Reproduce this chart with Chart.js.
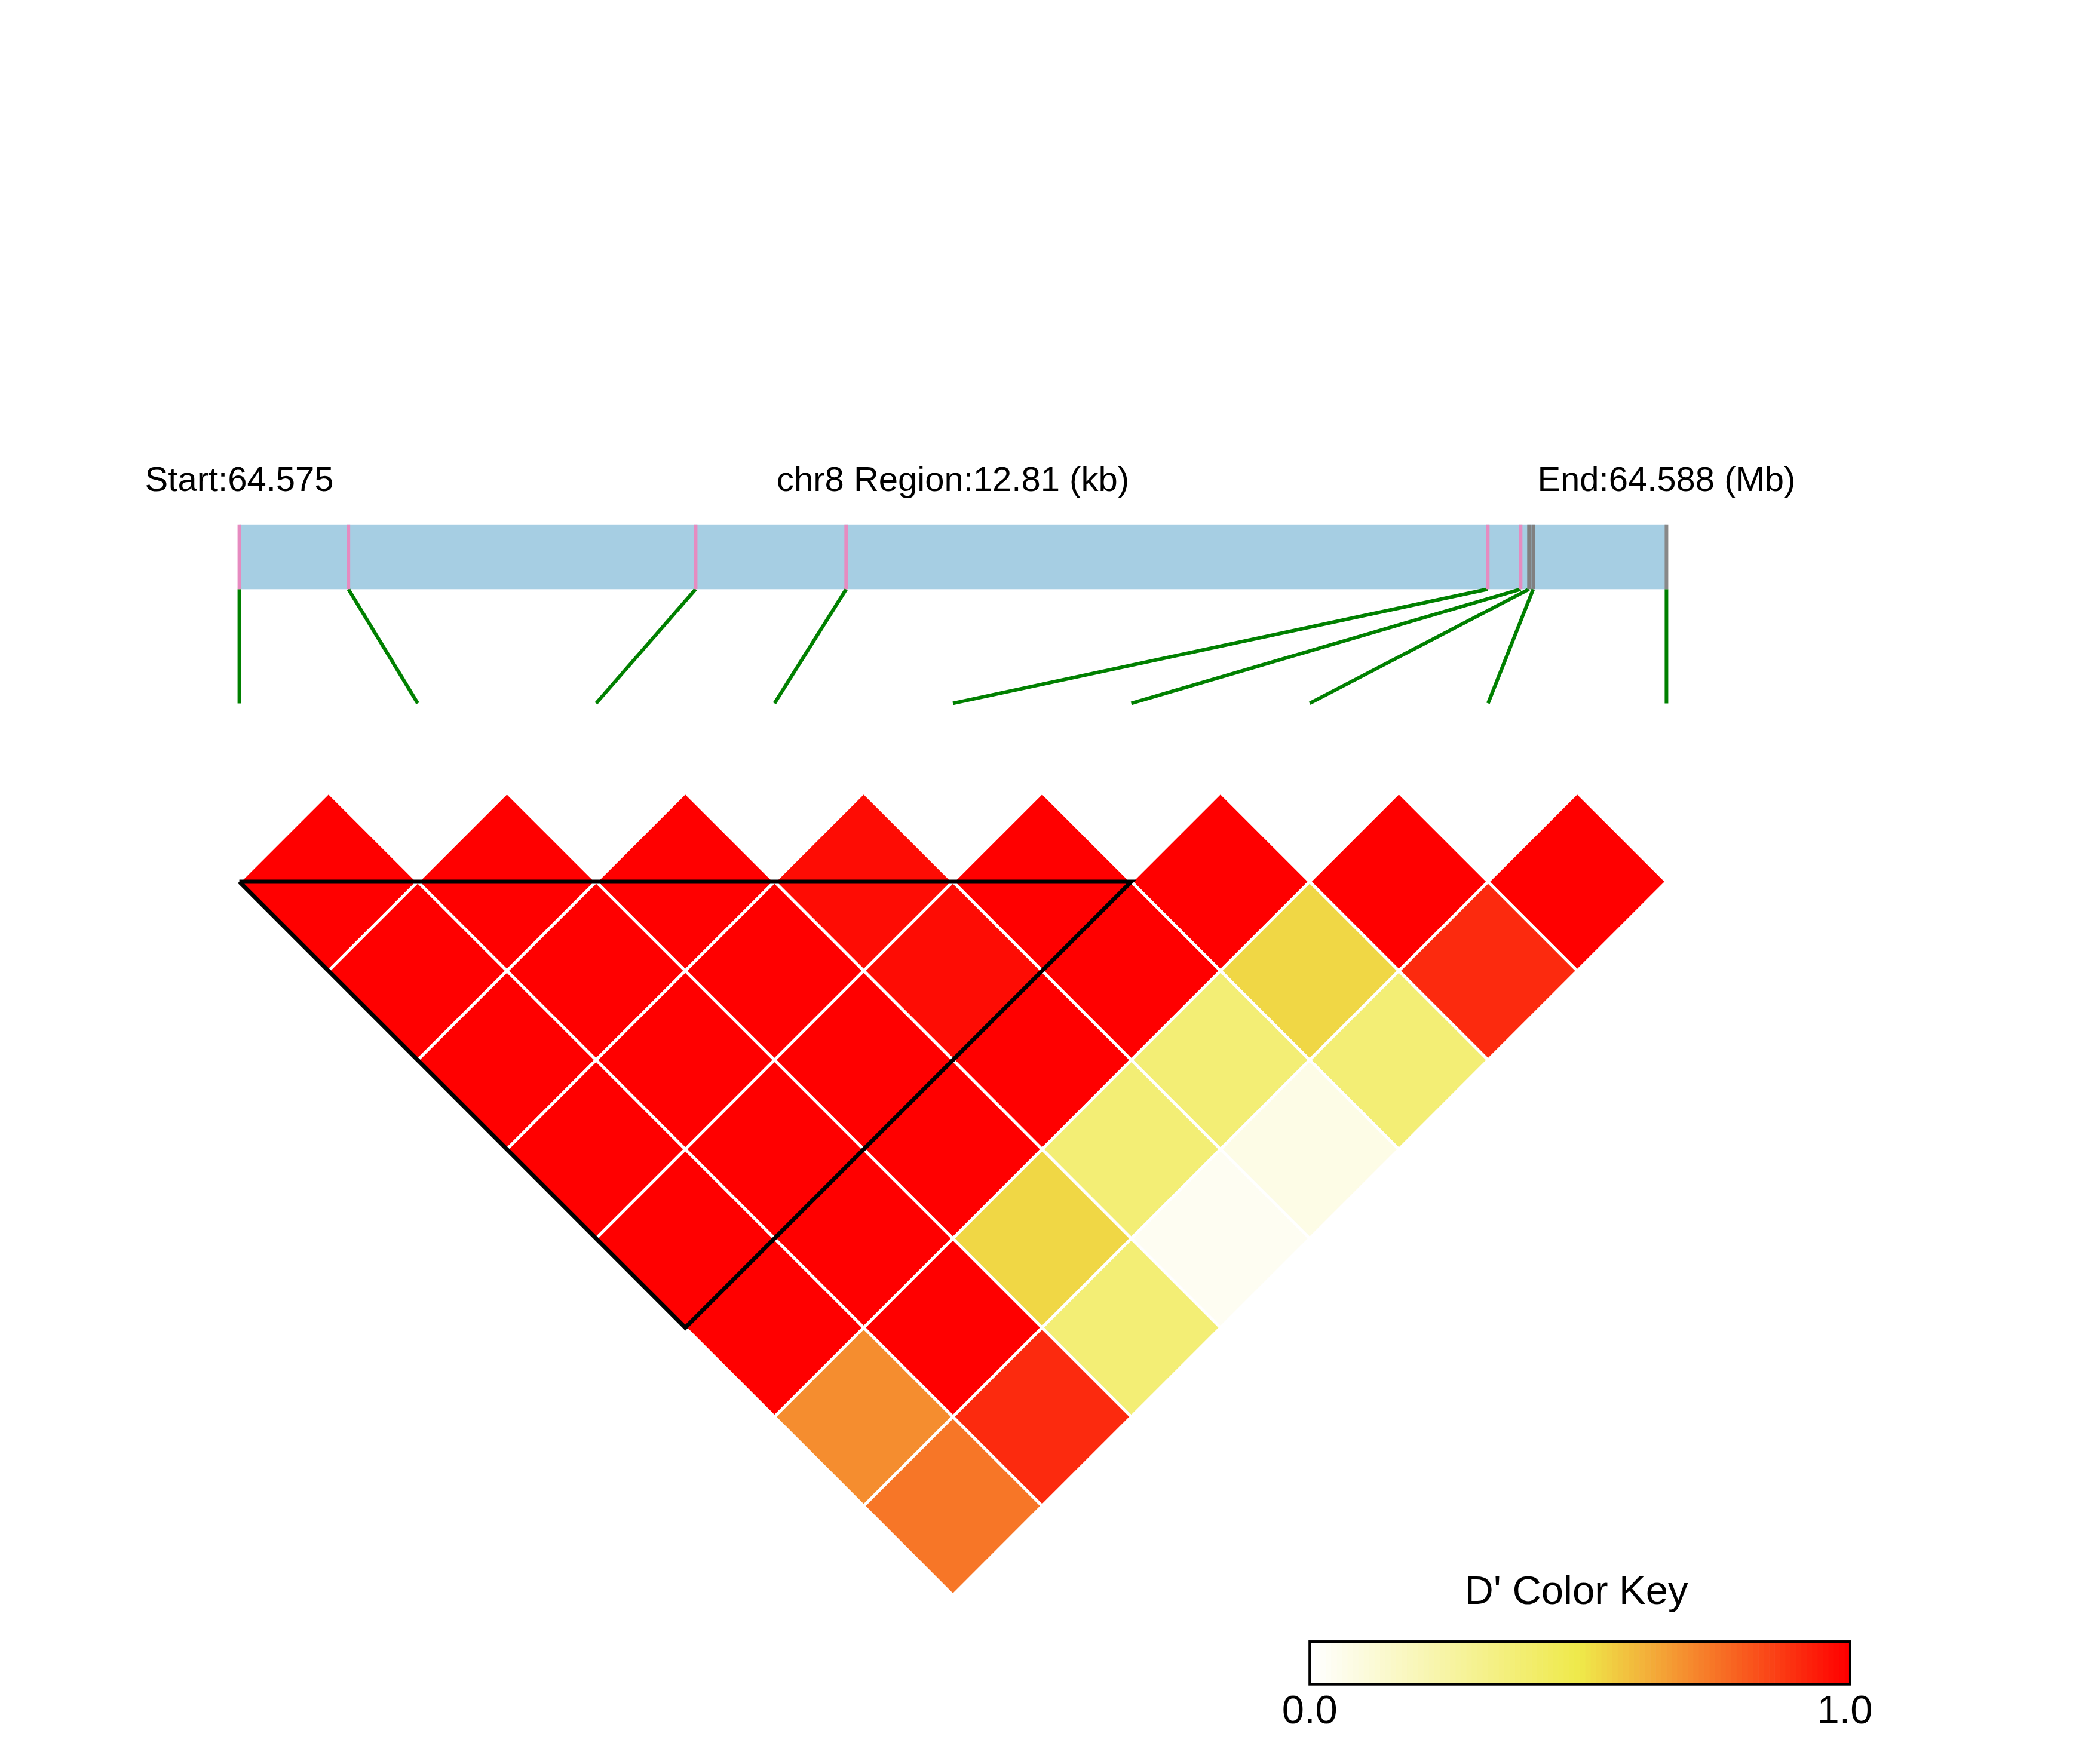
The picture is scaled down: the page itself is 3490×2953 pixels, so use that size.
<!DOCTYPE html>
<html>
<head>
<meta charset="utf-8">
<title>LD heatmap chr8</title>
<script src="https://cdn.jsdelivr.net/npm/chart.js@4.4.1/dist/chart.umd.min.js"></script>
<style>
  html, body { margin: 0; padding: 0; background: #fff; }
  canvas { display: block; }
</style>
</head>
<body>
<canvas id="ldChart" width="3490" height="2953"></canvas>
<script>
// SNP positions inside the region (kb from the start)
const snpPosKb = [0, 0.979, 4.096, 5.447, 11.206, 11.501, 11.576, 11.614, 12.81]
const snpTickColors = ['#e68bc0', '#e68bc0', '#e68bc0', '#e68bc0', '#e68bc0', '#e68bc0', '#808080', '#808080', '#888888']
const regionKb = 12.81
const regionLabels = ['Start:64.575', 'chr8 Region:12.81 (kb)', 'End:64.588 (Mb)']

// D' by distance: row r holds the pairs (i, i + r + 1)
const dPrimeRows = [
  [1, 1, 1, 0.975, 1, 1, 1, 1],
  [1, 1, 1, 0.975, 1, 0.54, 0.91],
  [1, 1, 1, 1, 0.38, 0.38],
  [1, 1, 1, 0.38, 0.07],
  [1, 1, 0.54, 0.035],
  [1, 1, 0.38],
  [0.70, 0.91],
  [0.75]
]
const blockSnps = [0, 5]

const keyTitle = "D' Color Key"
const keyTicks = [0, 1]
const keyTickLabels = ['0.0', '1.0']

// colour ramp used for the cells and the key
const rampStops = [[0, '#ffffff'], [0.5, '#efe94a'], [0.66, '#f4a035'], [1, '#ff0000']]

function hexRgb(h) {
  return [parseInt(h.slice(1, 3), 16), parseInt(h.slice(3, 5), 16), parseInt(h.slice(5, 7), 16)]
}
function rampColor(v) {
  for (let k = 1; k < rampStops.length; k++) {
    if (v <= rampStops[k][0]) {
      const [v0, c0] = rampStops[k - 1], [v1, c1] = rampStops[k]
      const t = (v - v0) / (v1 - v0)
      const a = hexRgb(c0), b = hexRgb(c1)
      return 'rgb(' + a.map((q, n) => Math.round(q + (b[n] - q) * t)).join(',') + ')'
    }
  }
  return rampStops[rampStops.length - 1][1]
}

const nSnp = snpPosKb.length
const kbToX = (kb) => kb / regionKb * (nSnp - 1)

// layout in chart units (1 unit = distance between two SNP columns)
const barTop = 2.0, barBottom = 1.64, linkBottom = 1.0, labelY = 2.19
const keyLeft = 6.0, keyRight = 9.03, keyTop = -4.26, keyBottom = -4.50
const keyTitleY = -4.05, keyLabelY = -4.72
const unitPx = 298.6

const cells = []
dPrimeRows.forEach((row, r) => {
  row.forEach((v, i) => {
    const j = i + r + 1
    cells.push({x: (i + j) / 2, y: -(j - i - 1) / 2, v: v})
  })
})

const b0 = blockSnps[0], b1 = blockSnps[1]
const blockOutline = [
  {x: b0, y: 0}, {x: b1, y: 0}, {x: (b0 + b1) / 2, y: -(b1 - b0) / 2}, {x: b0, y: 0}
]

const tickSets = snpPosKb.map((kb, i) => ({
  type: 'scatter', showLine: true, order: 1,
  data: [{x: kbToX(kb), y: barTop}, {x: kbToX(kb), y: barBottom}],
  borderColor: snpTickColors[i], borderWidth: 6, pointRadius: 0
}))
const linkSets = snpPosKb.map((kb, i) => ({
  type: 'scatter', showLine: true, order: 2,
  data: [{x: kbToX(kb), y: barBottom}, {x: i, y: linkBottom}],
  borderColor: '#008000', borderWidth: 6, pointRadius: 0
}))

const font = (px) => px + 'px "Liberation Sans", Arial, sans-serif'

const ldDecor = {
  id: 'ldDecor',
  beforeDatasetsDraw(chart) {
    const {ctx, scales: {x, y}} = chart
    const l = x.getPixelForValue(kbToX(0)), r = x.getPixelForValue(kbToX(regionKb))
    const t = y.getPixelForValue(barTop), b = y.getPixelForValue(barBottom)
    ctx.save()
    ctx.fillStyle = '#a6cee3'
    ctx.fillRect(l, t, r - l, b - t)
    ctx.restore()
  },
  afterDraw(chart) {
    const {ctx, scales: {x, y}} = chart
    ctx.save()
    ctx.fillStyle = '#000'
    ctx.textBaseline = 'alphabetic'
    ctx.textAlign = 'center'
    ctx.font = font(58)
    const labelKb = [0, regionKb / 2, regionKb]
    regionLabels.forEach((txt, k) => {
      ctx.fillText(txt, x.getPixelForValue(kbToX(labelKb[k])), y.getPixelForValue(labelY))
    })

    // colour key
    const kl = x.getPixelForValue(keyLeft), kr = x.getPixelForValue(keyRight)
    const kt = y.getPixelForValue(keyTop), kb = y.getPixelForValue(keyBottom)
    const steps = 100
    const w = (kr - kl) / steps
    for (let s = 0; s < steps; s++) {
      ctx.fillStyle = rampColor(s / (steps - 1))
      ctx.fillRect(kl + s * w, kt, w + 0.6, kb - kt)
    }
    ctx.strokeStyle = '#000'
    ctx.lineWidth = 4
    ctx.strokeRect(kl, kt, kr - kl, kb - kt)

    ctx.fillStyle = '#000'
    ctx.font = font(67)
    ctx.fillText(keyTitle, (kl + kr) / 2 - 6, y.getPixelForValue(keyTitleY))
    keyTicks.forEach((v, k) => {
      const px = x.getPixelForValue(keyLeft + (keyRight - keyLeft) * v)
      ctx.fillText(keyTickLabels[k], px - 9 * v, y.getPixelForValue(keyLabelY))
    })
    ctx.restore()
  }
}

const chartEl = document.getElementById('ldChart')
const xMin = -400.6 / unitPx
const yMax = 1476 / unitPx

new Chart(chartEl, {
  type: 'scatter',
  data: {
    datasets: [
      {
        label: 'block',
        type: 'scatter', showLine: true, order: 0,
        data: blockOutline,
        borderColor: '#000', borderWidth: 7, borderJoinStyle: 'miter',
        pointRadius: 0, tension: 0
      },
      ...tickSets,
      ...linkSets,
      {
        label: "D'",
        order: 3,
        data: cells,
        pointStyle: 'rectRot',
        radius: (c) => Math.abs(c.chart.scales.x.getPixelForValue(0.5) - c.chart.scales.x.getPixelForValue(0)),
        backgroundColor: (c) => rampColor(c.raw ? c.raw.v : 1),
        borderColor: '#ffffff',
        borderWidth: 5
      }
    ]
  },
  options: {
    responsive: false,
    animation: false,
    events: [],
    layout: {padding: 0},
    plugins: {legend: {display: false}, tooltip: {enabled: false}},
    scales: {
      x: {type: 'linear', display: false, min: xMin, max: xMin + 3490 / unitPx},
      y: {type: 'linear', display: false, min: yMax - 2953 / unitPx, max: yMax}
    }
  },
  plugins: [ldDecor]
})
</script>
</body>
</html>
